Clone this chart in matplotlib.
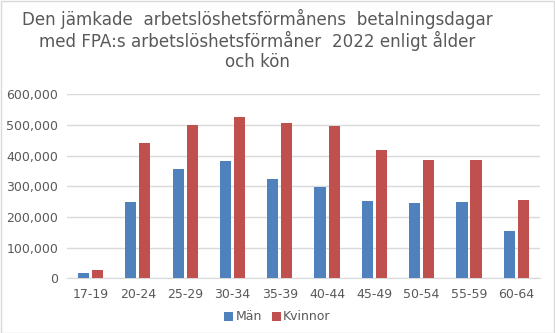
import numpy as np
import matplotlib.pyplot as plt
from matplotlib.ticker import FuncFormatter

# Betalningsdagar per åldersgrupp och kön
aldersgrupper = ['17-19', '20-24', '25-29', '30-34', '35-39',
                 '40-44', '45-49', '50-54', '55-59', '60-64']
man = [18000, 249000, 357000, 383000, 324000,
       298000, 252000, 246000, 249000, 154000]
kvinnor = [27000, 442000, 500000, 526000, 506000,
           497000, 418000, 386000, 386000, 255000]

txt = '#595959'
plt.rcParams['font.family'] = ['DejaVu Sans']

fig = plt.figure(figsize=(5.55, 3.33), dpi=100)
fig.patch.set_facecolor('white')
ax = fig.add_axes([66.7/555, 1-278.3/333, (540-66.7)/555, (278.3-94.3)/333])

x = np.arange(len(aldersgrupper))
w = 0.233
ax.bar(x - 0.148, man, w, color='#4f81bd', label='Män', zorder=3)
ax.bar(x + 0.148, kvinnor, w, color='#c0504d', label='Kvinnor', zorder=3)

ax.set_xlim(-0.5, len(aldersgrupper) - 0.5)
ax.set_ylim(0, 600000)
ax.set_yticks(range(0, 600001, 100000))
ax.yaxis.set_major_formatter(FuncFormatter(lambda v, p: f'{int(v):,}'))
ax.set_xticks(x)
ax.set_xticklabels(aldersgrupper)
ax.grid(axis='y', color='#d9d9d9', linewidth=1, zorder=0)
for s in ['top', 'right', 'left']:
    ax.spines[s].set_visible(False)
ax.spines['bottom'].set_color('#d9d9d9')
ax.tick_params(axis='both', length=0, colors=txt, labelsize=9)
ax.tick_params(axis='x', pad=7)
ax.tick_params(axis='y', pad=6)

fig.text(257/555, 1 - 40/333,
         'Den jämkade  arbetslöshetsförmånens  betalningsdagar\n'
         'med FPA:s arbetslöshetsförmåner  2022 enligt ålder\noch kön',
         ha='center', va='center', fontsize=12.1, color=txt, linespacing=1.12)

leg = fig.legend(loc='center', bbox_to_anchor=(0.5, 1 - 317/333), ncol=2,
                 frameon=False, fontsize=9, handlelength=0.7, handleheight=0.7,
                 handletextpad=0.2, columnspacing=0.8)
for t in leg.get_texts():
    t.set_color(txt)

fig.add_artist(plt.Rectangle((0.5/555, 0.5/333), 1 - 1.5/555, 1 - 1.5/333,
                             transform=fig.transFigure, fill=False,
                             edgecolor='#d9d9d9', linewidth=1))

fig.savefig('out.png', dpi=100, facecolor='white')
